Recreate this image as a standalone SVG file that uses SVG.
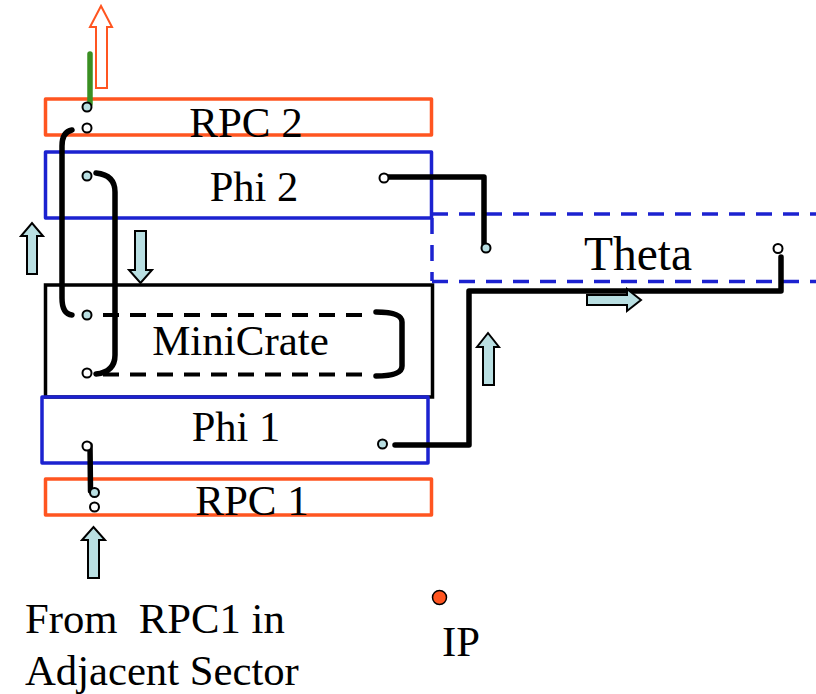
<svg xmlns="http://www.w3.org/2000/svg" width="816" height="694" viewBox="0 0 816 694">
<style>
text{font-family:"Liberation Serif","Times New Roman",serif;fill:#000}
.rpc{fill:none;stroke:#ff5520;stroke-width:3.500;stroke-linejoin:round}
.phi{fill:none;stroke:#1c22d0;stroke-width:3.500;stroke-linejoin:round}
.dash{fill:none;stroke:#1c22d0;stroke-width:3.500;stroke-dasharray:16 11}
.w{fill:none;stroke:#000;stroke-width:5.500;stroke-linecap:round;stroke-linejoin:round}
.d{fill:none;stroke:#000;stroke-width:4;stroke-dasharray:16 11}
.a{fill:#b9dfe2;stroke:#000;stroke-width:2}
.c{fill:#b9dfe2;stroke:#000;stroke-width:2}
.o{fill:#fff;stroke:#000;stroke-width:2}
</style>
<g id="minicrate"><rect x="45.500" y="285" width="387" height="112" fill="none" stroke="#000" stroke-width="3.500"/><text x="240.500" y="355" font-size="43" text-anchor="middle">MiniCrate</text></g>
<g id="rpc2"><rect x="45.500" y="99" width="386" height="36" class="rpc"/><text x="246" y="137" font-size="43" text-anchor="middle">RPC 2</text></g>
<g id="phi2"><rect x="45.500" y="152" width="386" height="66" class="phi"/><text x="254" y="200.500" font-size="42.500" text-anchor="middle">Phi 2</text></g>
<g id="phi1"><rect x="42" y="397" width="386" height="66" class="phi"/><text x="236" y="441" font-size="42.500" text-anchor="middle">Phi 1</text></g>
<g id="rpc1"><rect x="45.500" y="479" width="386" height="36" class="rpc"/><text x="252" y="515" font-size="43" text-anchor="middle">RPC 1</text></g>
<g id="theta"><path class="dash" d="M432 214H816M432 281.500H816"/><path class="dash" d="M432 218V281"/><text x="638" y="270" font-size="47.500" text-anchor="middle">Theta</text></g>
<g id="labels"><text x="25" y="633" font-size="42.700" xml:space="preserve">From  RPC1 in</text><text x="25" y="685" font-size="42.700">Adjacent Sector</text><text x="442" y="656" font-size="42.700">IP</text><circle cx="439.500" cy="597.500" r="7" fill="#ff5520" stroke="#000" stroke-width="1.500"/></g>
<g id="connectors">
<path class="d" d="M103 315H363M103 374.500H363"/>
<path d="M90 54V104" fill="none" stroke="#3a8f22" stroke-width="5.500" stroke-linecap="round"/>
<path class="w" d="M72 130Q62 132 62 146V298Q62 314 72 315"/>
<path class="w" d="M96 173Q115 175 115 192V355Q115 372 96 374"/>
<path class="w" d="M376 312Q402 312 402 322V366Q402 376 376 376"/>
<path class="w" d="M386 177H484V244"/>
<path class="w" d="M395 445H469V291H781V257"/>
<path class="w" d="M90 445L90.500 491"/>
</g>
<g id="arrows">
<path d="M96 88V27H90L101 6L112 27H107V88Z" fill="#fff" stroke="#ff5520" stroke-width="2"/>
<path class="a" d="M27 274V236H21L32 223L43 236H37V274Z"/>
<path class="a" d="M135 231H146V270H152L140.500 283L129 270H135Z"/>
<path class="a" d="M483 385V347H477L488 333L499 347H494V385Z"/>
<path class="a" d="M587 295H627V289L641 300L627 311V305H587Z"/>
<path class="a" d="M88 578V540H82L93.500 527L105 540H99V578Z"/>
</g>
<g id="ports">
<circle class="c" cx="87" cy="107" r="4.500"/><circle class="o" cx="87" cy="128" r="4.500"/><circle class="c" cx="87" cy="176" r="4.500"/><circle class="o" cx="384" cy="178" r="4.500"/><circle class="c" cx="486" cy="248" r="4.500"/><circle class="o" cx="778" cy="248.500" r="4.500"/><circle class="c" cx="87" cy="315" r="4.500"/><circle class="o" cx="87" cy="373" r="4.500"/><circle class="c" cx="382.500" cy="444" r="4.500"/><circle class="o" cx="87" cy="446" r="4.500"/><circle class="c" cx="94.500" cy="492.500" r="4.500"/><circle class="o" cx="94.500" cy="507" r="4.500"/>
</g>
</svg>
